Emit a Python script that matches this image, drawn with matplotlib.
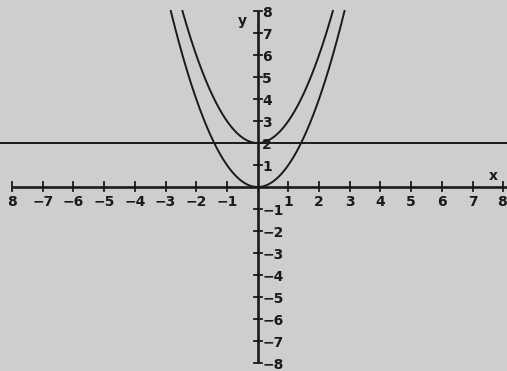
import numpy as np
import matplotlib
matplotlib.use('Agg')
import matplotlib.pyplot as plt

# y = x^2 + c for each shift, plus the horizontal line y = 2
shifts = [0, 2]
y_max = 8
hline_y = 2

x_ticks = [-8, -7, -6, -5, -4, -3, -2, -1, 1, 2, 3, 4, 5, 6, 7, 8]
x_labels = ['8', '\u22127', '\u22126', '\u22125', '\u22124', '\u22123', '\u22122', '\u22121',
            '1', '2', '3', '4', '5', '6', '7', '8']
y_ticks = [8, 7, 6, 5, 4, 3, 2, 1, -1, -2, -3, -4, -5, -6, -7, -8]
y_labels = ['8', '7', '6', '5', '4', '3', '2', '1', '\u22121', '\u22122', '\u22123',
            '\u22124', '\u22125', '\u22126', '\u22127', '\u22128']

ink = '#1a1a1a'
paper = '#cecece'

fig = plt.figure(figsize=(5.07, 3.71), dpi=100, facecolor=paper)
ax = fig.add_axes([0, 0, 1, 1])
ax.set_facecolor(paper)
ax.set_xlim(-8.39, 8.12)
ax.set_ylim(-8.36, 8.5)
ax.axis('off')

# axes
ax.plot([-8, 8.12], [0, 0], color=ink, lw=1.9, solid_capstyle='butt')
ax.plot([0, 0], [-8, 8], color=ink, lw=1.9, solid_capstyle='butt')

# tick marks ("+" style)
for t in x_ticks:
    ax.plot([t, t], [-0.18, 0.22], color=ink, lw=1.3)
for t in y_ticks:
    ax.plot([-0.13, 0.13], [t, t], color=ink, lw=1.3)

font = dict(fontsize=10, fontweight='bold', color=ink, family='DejaVu Sans')
for t, lab in zip(x_ticks, x_labels):
    # the last label sits right against the edge
    ha = 'right' if t == x_ticks[-1] else 'center'
    xpos = 8.1 if t == x_ticks[-1] else t
    ax.text(xpos, -0.66, lab, ha=ha, va='center', **font)
for t, lab in zip(y_ticks, y_labels):
    ax.text(0.15, t - 0.1, lab, ha='left', va='center', **font)

ax.text(7.68, 0.5, 'x', ha='center', va='center', **font)
ax.text(-0.51, 7.55, 'y', ha='center', va='center', **font)

# horizontal line across the whole width
ax.axhline(hline_y, color=ink, lw=1.4)

# parabolas
for c in shifts:
    lim = np.sqrt(y_max - c)
    xs = np.linspace(-lim, lim, 300)
    ax.plot(xs, xs ** 2 + c, color=ink, lw=1.4)

fig.savefig('out.png', dpi=100, facecolor=paper)
